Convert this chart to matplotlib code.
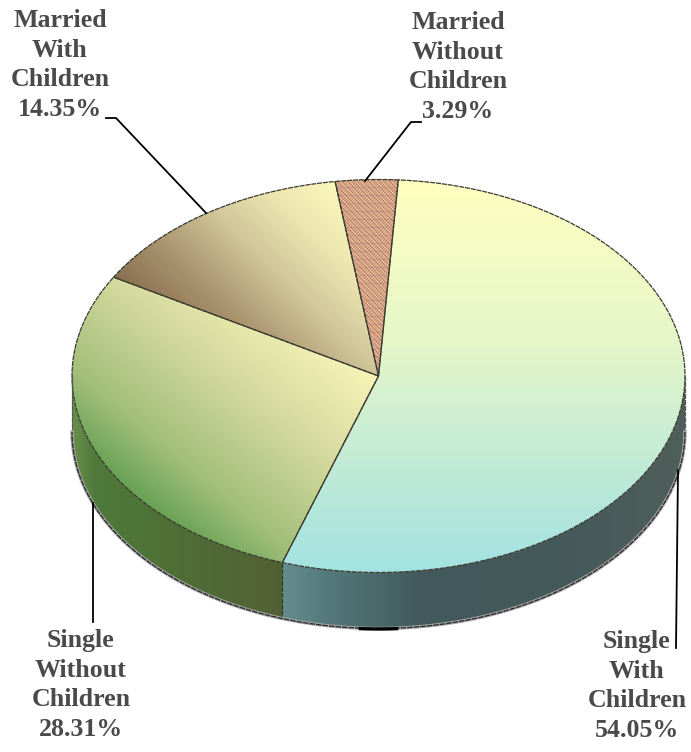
import numpy as np
import matplotlib
matplotlib.use('Agg')
import matplotlib.pyplot as plt
from matplotlib.patches import Polygon
from matplotlib.colors import LinearSegmentedColormap

# Chart values, clockwise from the first slice
categories = ['Single\nWith\nChildren', 'Single\nWithout\nChildren',
              'Married\nWith\nChildren', 'Married\nWithout\nChildren']
shares = [54.05, 28.31, 14.35, 3.29]
label_pos = [(637, 686), (81, 685), (60, 65), (458, 67)]

W, H = 691, 752
CX, CY, RX, RY = 378.5, 376, 306.5, 196.5
DEPTH = 56
START = 3.7  # degrees clockwise from top
DASH = (0, (4, 0.7))

plt.rcParams['font.family'] = ['Liberation Serif', 'DejaVu Serif']

fig = plt.figure(figsize=(W / 100, H / 100), dpi=100)
ax = fig.add_axes([0, 0, 1, 1])
xx, yy = np.meshgrid(np.arange(W) + 0.5, np.arange(H) + 0.5)


def arc(t0, t1, dy=0):
    t = np.radians(np.linspace(t0, t1, max(int(abs(t1 - t0) * 3), 2)))
    return np.column_stack([CX + RX * np.sin(t), CY - RY * np.cos(t) + dy])


def fill(pts, u, stops):
    # gradient image clipped to the polygon, stops are (u value, colour)
    lo, hi = stops[0][0], stops[-1][0]
    cmap = LinearSegmentedColormap.from_list(
        'g', [((s - lo) / (hi - lo), c) for s, c in stops])
    im = ax.imshow(np.clip((u - lo) / (hi - lo), 0, 1), cmap=cmap, vmin=0, vmax=1,
                   extent=(0, W, H, 0), aspect='auto', interpolation='bilinear')
    patch = Polygon(pts, closed=True, transform=ax.transData, fc='none', ec='none')
    ax.add_patch(patch)
    im.set_clip_path(patch)


edges = START + np.concatenate([[0], np.cumsum(shares)]) * 3.6

# side wall, only the front half of the ellipse shows
wall_stops = [
    [(283, '#648c8c'), (340, '#517476'), (420, '#425a5c'), (560, '#45595a'), (686, '#4f5f5a')],
    [(72, '#6b8f4a'), (95, '#4f7a3a'), (150, '#4e7337'), (284, '#526033')],
]
walls = [(90, edges[1]), (edges[1], 270)]
for (a, b), stops in zip(walls, wall_stops):
    pts = np.vstack([arc(a, b), arc(b, a, DEPTH)])
    fill(pts, xx, stops)

# top faces
top_u = [
    yy,
    -0.64 * (xx - 378) + 0.77 * (yy - 376),
    0.7 * (xx - 118) - 0.71 * (yy - 278),
    None,
]
top_stops = [
    [(179, '#ffffc0'), (340, '#e6f6c8'), (470, '#bfead6'), (572, '#a3e2e1')],
    [(0, '#f8f4b8'), (100, '#d2d89c'), (190, '#a2bf7a'), (250, '#64a052'), (275, '#5a9a4e')],
    [(0, '#8a7050'), (60, '#ad9872'), (115, '#d0c69a'), (165, '#ebe4ae'), (220, '#fbf8bb')],
    None,
]
for i in range(3):
    pts = np.vstack([[CX, CY], arc(edges[i], edges[i + 1])])
    fill(pts, top_u[i], top_stops[i])

# woven texture of the small slice
pts = np.vstack([[CX, CY], arc(edges[3], edges[4])])
weave = (np.sin(xx * 2.1) * np.sin(yy * 1.9) + 0.45 * np.sin((xx - yy) * 1.2)
         - 0.5 * (np.sin(yy * 0.78) > 0.93))
fill(pts, weave, [(-1.5, '#a8637f'), (-0.4, '#cc9486'), (0.5, '#e0b680'), (1.4, '#f3e08a')])

# outlines
for i in range(4):
    pts = np.vstack([[CX, CY], arc(edges[i], edges[i + 1]), [CX, CY]])
    ax.plot(pts[:, 0], pts[:, 1], color='#3a3a30', lw=0.9, ls=DASH)
front = arc(90, 270, DEPTH)
ax.plot(front[:, 0], front[:, 1], color='#a8a8a8', lw=2.4, zorder=3)
ax.plot(front[:, 0], front[:, 1], color='#2e2e2e', lw=1.0, ls=DASH, zorder=3)
blob = arc(176.6, 183.4, DEPTH + 0.5)
ax.plot(blob[:, 0], blob[:, 1], color='black', lw=2.4, zorder=3)
seam = arc(edges[1], edges[1])[0]
ax.plot([seam[0], seam[0]], [seam[1], seam[1] + DEPTH], color='#33382a', lw=0.9, ls=DASH)
for t in (90, 270):
    p = arc(t, t)[0]
    ax.plot([p[0], p[0]], [p[1], p[1] + DEPTH], color='#555555', lw=0.9, ls=DASH)

# leader lines
leaders = [
    [(678, 470), (676, 648)],
    [(93, 503), (93, 622)],
    [(106, 118), (116, 118), (206, 213)],
    [(421, 122), (411, 122), (365, 181)],
]
for line in leaders:
    lx, ly = zip(*line)
    ax.plot(lx, ly, color='black', lw=1.3, zorder=4)

# labels
for name, share, (x, y) in zip(categories, shares, label_pos):
    ax.text(x, y, f'{name}\n{share:.2f}%', ha='center', va='center', fontsize=18.6,
            fontweight='bold', color='#4a4a4a', linespacing=1.37, zorder=5)

ax.set_xlim(0, W)
ax.set_ylim(H, 0)
ax.axis('off')
fig.savefig('out.png', dpi=100, facecolor='white')
